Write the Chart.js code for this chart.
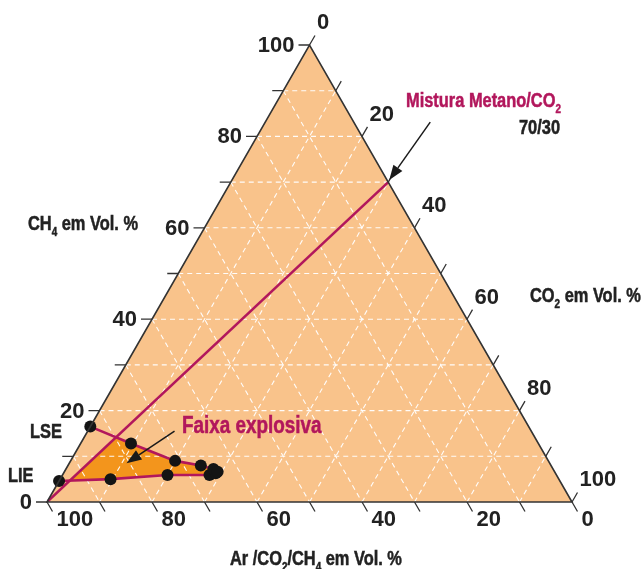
<!DOCTYPE html>
<html>
<head>
<meta charset="utf-8">
<script src="https://cdn.jsdelivr.net/npm/chart.js@4.4.1/dist/chart.umd.min.js"></script>
<style>
  html, body { margin: 0; padding: 0; background: #ffffff; }
  canvas { display: block; }
</style>
</head>
<body>
<canvas id="ternary" width="644" height="569"></canvas>
<script>
// Compositions in % by volume as [CH4, CO2]; air is the remainder to 100.
const mixtureLine = [[0, 0], [70, 30]];
const upperLimit = [[16.5, 0], [12.8, 9.6], [9.0, 19.9], [8.0, 25.3], [7.2, 28.1], [6.6, 29.2]];
const lowerLimit = [[4.6, 0], [5.0, 9.6], [5.9, 20.0], [5.9, 28.0], [6.3, 29.0]];
// Where the 70/30 mixture line meets the upper and lower limit curves
const zoneCorners = [[14.2, 6.1], [4.7, 2.0]];
const tickValues = [0, 10, 20, 30, 40, 50, 60, 70, 80, 90, 100];
const labelValues = [0, 20, 40, 60, 80, 100];

const SQ = Math.sqrt(3) / 2;
const toXY = ([ch4, co2]) => ({ x: co2 + ch4 / 2, y: ch4 * SQ });

// Explosive zone: upper curve from the mixture line to the nose, back along the lower curve
const explosiveZone = [zoneCorners[0]]
  .concat(upperLimit.slice(1))
  .concat(lowerLimit.slice(1).reverse())
  .concat([zoneCorners[1], zoneCorners[0]]);

const CRIMSON = '#b2175c';
const FILL_LIGHT = '#f9c38b';
const FILL_DARK = '#f3951c';
const INK = '#222222';

// Condensed face for the titles (falls back to a squeezed Liberation Sans)
const probe = document.createElement('canvas').getContext('2d');
probe.font = 'bold 20px "Liberation Sans Narrow", monospace';
const wNarrow = probe.measureText('Mistura Metano').width;
probe.font = 'bold 20px monospace';
const wMono = probe.measureText('Mistura Metano').width;
const HAS_NARROW = Math.abs(wNarrow - wMono) > 0.5;
const condFamily = HAS_NARROW ? '"Liberation Sans Narrow"' : '"Liberation Sans"';
const condScale = HAS_NARROW ? 1 : 0.82;

function drawRich(ctx, parts, x, y, size, color, align) {
  // parts: [text, isSubscript]
  ctx.save();
  ctx.fillStyle = color;
  ctx.strokeStyle = color;
  ctx.lineWidth = 0.5;
  ctx.textBaseline = 'alphabetic';
  ctx.textAlign = 'left';
  const fonts = parts.map(([t, sub]) => `bold ${sub ? Math.round(size * 0.6) : size}px ${condFamily}`);
  let total = 0;
  const widths = parts.map(([t], i) => { ctx.font = fonts[i]; const w = ctx.measureText(t).width * condScale; total += w; return w; });
  let cx = align === 'right' ? x - total : (align === 'center' ? x - total / 2 : x);
  parts.forEach(([t, sub], i) => {
    ctx.font = fonts[i];
    ctx.save();
    ctx.translate(cx, y + (sub ? size * 0.28 : 0));
    ctx.scale(condScale, 1);
    ctx.fillText(t, 0, 0);
    ctx.strokeText(t, 0, 0);
    ctx.restore();
    cx += widths[i];
  });
  ctx.restore();
}

function arrow(ctx, tail, tip) {
  const dx = tip.x - tail.x, dy = tip.y - tail.y;
  const len = Math.hypot(dx, dy), ux = dx / len, uy = dy / len;
  const head = 15, half = 5.5;
  const bx = tip.x - ux * head, by = tip.y - uy * head;
  ctx.save();
  ctx.strokeStyle = '#1a1a1a';
  ctx.fillStyle = '#1a1a1a';
  ctx.lineWidth = 1.5;
  ctx.beginPath();
  ctx.moveTo(tail.x, tail.y);
  ctx.lineTo(bx, by);
  ctx.stroke();
  ctx.beginPath();
  ctx.moveTo(tip.x, tip.y);
  ctx.lineTo(bx - uy * half, by + ux * half);
  ctx.lineTo(bx + uy * half, by - ux * half);
  ctx.closePath();
  ctx.fill();
  ctx.restore();
}

const ZONE_INDEX = 3;

const ternaryFrame = {
  id: 'ternaryFrame',
  _pt(chart, ch4, co2) {
    const v = toXY([ch4, co2]);
    return { x: chart.scales.x.getPixelForValue(v.x), y: chart.scales.y.getPixelForValue(v.y) };
  },
  beforeDatasetsDraw(chart) {
    const ctx = chart.ctx, P = (a, b) => this._pt(chart, a, b);
    const A = P(0, 0), T = P(100, 0), C = P(0, 100);
    ctx.save();
    ctx.fillStyle = FILL_LIGHT;
    ctx.beginPath();
    ctx.moveTo(A.x, A.y); ctx.lineTo(T.x, T.y); ctx.lineTo(C.x, C.y); ctx.closePath();
    ctx.fill();
    ctx.restore();
  },
  afterDatasetDraw(chart, args) {
    if (args.index !== ZONE_INDEX) return;
    // dashed white grid, drawn over the explosive zone but under the curves
    const ctx = chart.ctx, P = (a, b) => this._pt(chart, a, b);
    ctx.save();
    ctx.strokeStyle = 'rgba(255,255,255,0.95)';
    ctx.lineWidth = 1.1;
    ctx.setLineDash([5, 4]);
    const seg = (p, q) => { ctx.beginPath(); ctx.moveTo(p.x, p.y); ctx.lineTo(q.x, q.y); ctx.stroke(); };
    tickValues.filter(v => v > 0 && v < 100).forEach(k => {
      seg(P(k, 0), P(k, 100 - k));           // constant CH4
      seg(P(0, k), P(100 - k, k));           // constant CO2
      seg(P(100 - k, 0), P(0, 100 - k));     // constant air
    });
    ctx.restore();
  },
  afterDatasetsDraw(chart) {
    const ctx = chart.ctx, P = (a, b) => this._pt(chart, a, b);
    const A = P(0, 0), T = P(100, 0), C = P(0, 100);
    ctx.save();
    ctx.strokeStyle = '#333333';
    ctx.lineWidth = 1.6;
    ctx.beginPath();
    ctx.moveTo(A.x, A.y); ctx.lineTo(T.x, T.y); ctx.lineTo(C.x, C.y); ctx.closePath();
    ctx.stroke();

    const TL = 11;
    const vCH4 = { x: -TL, y: 0 };
    const vCO2 = { x: TL * 0.5, y: -TL * SQ };
    const vAir = { x: TL * 0.5, y: TL * SQ };
    ctx.lineWidth = 1.3;
    ctx.fillStyle = INK;
    ctx.font = 'bold 22px "Liberation Sans", Arial, sans-serif';
    ctx.textBaseline = 'alphabetic';
    tickValues.forEach(v => {
      const a = P(v, 0), b = P(100 - v, v), c = P(0, 100 - v);
      ctx.beginPath();
      ctx.moveTo(a.x, a.y); ctx.lineTo(a.x + vCH4.x, a.y + vCH4.y);
      ctx.moveTo(b.x, b.y); ctx.lineTo(b.x + vCO2.x, b.y + vCO2.y);
      ctx.moveTo(c.x, c.y); ctx.lineTo(c.x + vAir.x, c.y + vAir.y);
      ctx.stroke();
      if (labelValues.includes(v)) {
        ctx.textAlign = 'right';
        ctx.fillText(String(v), a.x + vCH4.x - 4, a.y + 7);
        ctx.textAlign = 'left';
        ctx.fillText(String(v), b.x + vCO2.x + 2, b.y + vCO2.y - 6);
        ctx.fillText(String(v), c.x + vAir.x + 4, c.y + vAir.y + 14);
      }
    });
    ctx.restore();

    // axis titles
    drawRich(ctx, [['CH'], ['4', true], [' em Vol. %']], 28, 230, 20, INK, 'left');
    drawRich(ctx, [['CO'], ['2', true], [' em Vol. %']], 530, 302, 20, INK, 'left');
    drawRich(ctx, [['Ar /CO'], ['2', true], ['/CH'], ['4', true], [' em Vol. %']], 230, 565, 20, INK, 'left');
    drawRich(ctx, [['LSE']], 30, 438, 20, INK, 'left');
    drawRich(ctx, [['LIE']], 8, 482, 20, INK, 'left');

    // annotations
    drawRich(ctx, [['Mistura Metano/CO'], ['2', true]], 406, 107, 20, CRIMSON, 'left');
    drawRich(ctx, [['70/30']], 560, 134, 20, INK, 'right');
    drawRich(ctx, [['Faixa explosiva']], 182, 433, 23, CRIMSON, 'left');

    const mixEnd = P(mixtureLine[1][0], mixtureLine[1][1]);
    arrow(ctx, { x: mixEnd.x + 42, y: mixEnd.y - 60 }, { x: mixEnd.x + 1, y: mixEnd.y - 2 });
    const zoneTip = P(8.5, 10.9);
    arrow(ctx, { x: zoneTip.x + 48, y: zoneTip.y - 32 }, zoneTip);
  }
};

const lineStyle = {
  showLine: true,
  borderColor: CRIMSON,
  borderWidth: 2.6,
  pointBackgroundColor: '#141414',
  pointBorderWidth: 0,
  pointRadius: 6,
  fill: false
};

new Chart(document.getElementById('ternary'), {
  type: 'scatter',
  data: {
    datasets: [
      Object.assign({}, lineStyle, { label: 'Mistura Metano/CO2 70/30', data: mixtureLine.map(toXY), pointRadius: 0 }),
      Object.assign({}, lineStyle, { label: 'LSE', data: upperLimit.map(toXY) }),
      Object.assign({}, lineStyle, { label: 'LIE', data: lowerLimit.map(toXY) }),
      {
        label: 'Faixa explosiva',
        data: explosiveZone.map(toXY),
        showLine: true,
        borderWidth: 0,
        borderColor: 'rgba(0,0,0,0)',
        pointRadius: 0,
        backgroundColor: FILL_DARK,
        fill: 'shape'
      }
    ]
  },
  options: {
    responsive: false,
    devicePixelRatio: 1,
    animation: false,
    events: [],
    layout: { padding: { left: 47, right: 72, top: 45, bottom: 67 } },
    scales: {
      x: { type: 'linear', min: 0, max: 100, display: false },
      y: { type: 'linear', min: 0, max: 100 * SQ, display: false }
    },
    plugins: {
      legend: { display: false },
      tooltip: { enabled: false },
      title: { display: false }
    }
  },
  plugins: [ternaryFrame]
});
</script>
</body>
</html>
